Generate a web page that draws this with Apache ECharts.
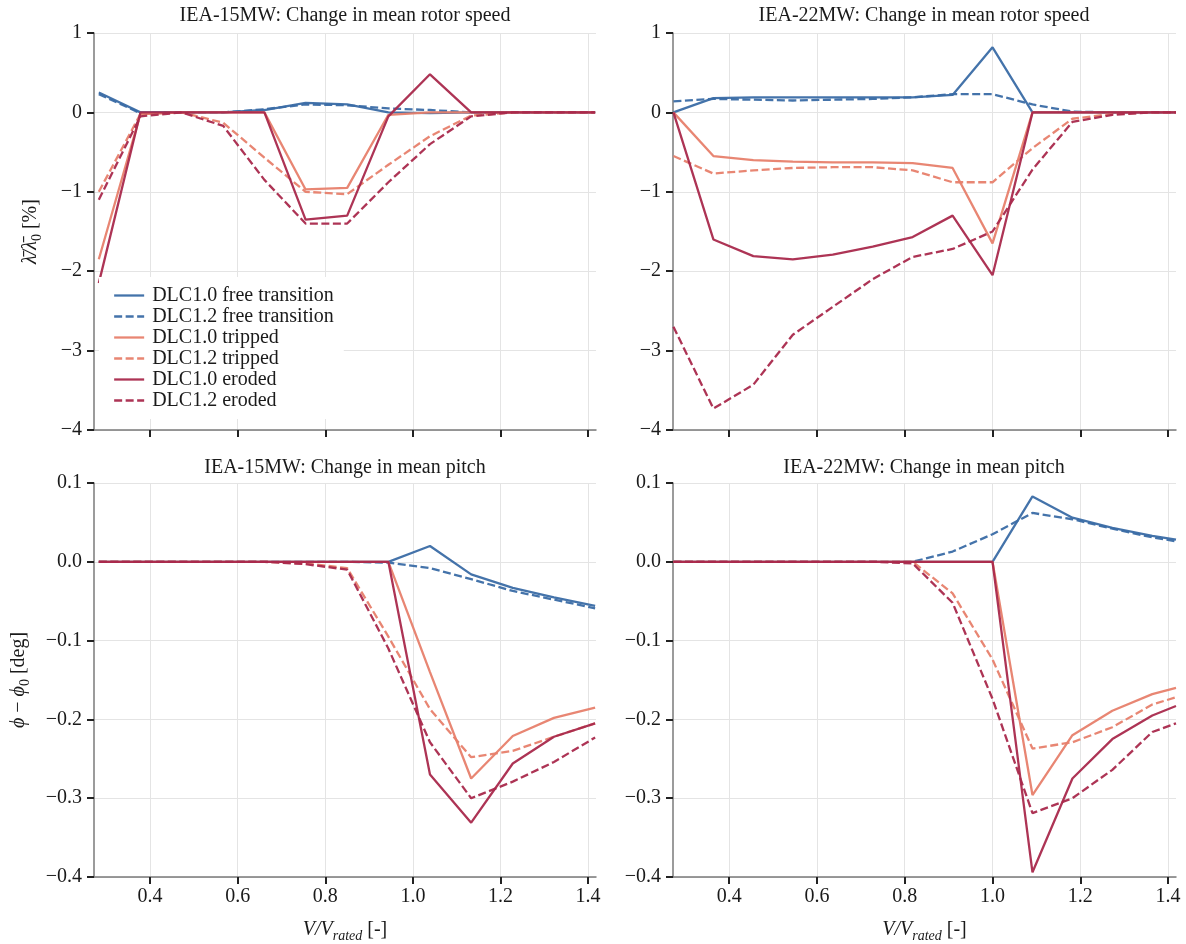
<!DOCTYPE html>
<html>
<head>
<meta charset="utf-8">
<script src="https://cdn.jsdelivr.net/npm/echarts@6/dist/echarts.min.js"></script>
<style>
  html, body { margin: 0; padding: 0; background: #fff; }
  #chart { width: 1186px; height: 944px; }
</style>
</head>
<body>
<div id="chart"></div>
<script>
// Normalised wind speed V/V_rated for each turbine
const x15 = [0.283, 0.378, 0.472, 0.567, 0.661, 0.755, 0.850, 0.944, 1.039, 1.133, 1.228, 1.322, 1.416];
const x22 = [0.273, 0.364, 0.455, 0.545, 0.636, 0.727, 0.818, 0.909, 1.000, 1.091, 1.182, 1.273, 1.364, 1.418];
const xTicks = [0.4, 0.6, 0.8, 1.0, 1.2, 1.4];

const seriesNames = [
  'DLC1.0 free transition', 'DLC1.2 free transition',
  'DLC1.0 tripped', 'DLC1.2 tripped',
  'DLC1.0 eroded', 'DLC1.2 eroded'
];
const panelTitles = [
  'IEA-15MW: Change in mean rotor speed', 'IEA-22MW: Change in mean rotor speed',
  'IEA-15MW: Change in mean pitch', 'IEA-22MW: Change in mean pitch'
];

// IEA-15MW, change in mean rotor speed [%]
const rot15Free10 = [0.25, 0.0, 0.0, 0.0, 0.03, 0.12, 0.10, 0.0, -0.01, 0.0, 0.0, 0.0, 0.0];
const rot15Free12 = [0.23, -0.01, 0.0, 0.0, 0.04, 0.10, 0.09, 0.05, 0.03, 0.0, 0.0, 0.0, 0.0];
const rot15Trip10 = [-1.85, -0.02, 0.0, 0.0, 0.0, -0.97, -0.95, -0.03, 0.0, 0.0, 0.0, 0.0, 0.0];
const rot15Trip12 = [-1.0, -0.02, 0.0, -0.13, -0.57, -1.0, -1.03, -0.66, -0.3, -0.04, 0.0, 0.0, 0.0];
const rot15Eros10 = [-2.15, 0.0, 0.0, 0.0, 0.0, -1.35, -1.3, -0.05, 0.48, 0.0, 0.0, 0.0, 0.0];
const rot15Eros12 = [-1.1, -0.05, 0.0, -0.17, -0.85, -1.4, -1.4, -0.88, -0.4, -0.05, 0.0, 0.0, 0.0];

// IEA-22MW, change in mean rotor speed [%]
const rot22Free10 = [0.0, 0.18, 0.19, 0.19, 0.19, 0.19, 0.19, 0.22, 0.82, 0.0, 0.0, 0.0, 0.0, 0.0];
const rot22Free12 = [0.14, 0.17, 0.16, 0.15, 0.16, 0.17, 0.19, 0.23, 0.23, 0.1, 0.01, 0.0, 0.0, 0.0];
const rot22Trip10 = [0.0, -0.55, -0.6, -0.62, -0.63, -0.63, -0.64, -0.7, -1.65, 0.0, 0.0, 0.0, 0.0, 0.0];
const rot22Trip12 = [-0.55, -0.77, -0.73, -0.7, -0.69, -0.69, -0.73, -0.88, -0.88, -0.45, -0.08, -0.02, 0.0, 0.0];
const rot22Eros10 = [0.0, -1.6, -1.81, -1.85, -1.79, -1.69, -1.57, -1.3, -2.05, 0.0, 0.0, 0.0, 0.0, 0.0];
const rot22Eros12 = [-2.7, -3.73, -3.43, -2.8, -2.45, -2.1, -1.82, -1.72, -1.5, -0.72, -0.12, -0.03, 0.0, 0.0];

// IEA-15MW, change in mean pitch [deg]
const pitch15Free10 = [0, 0, 0, 0, 0, 0, 0, 0, 0.02, -0.016, -0.033, -0.045, -0.056];
const pitch15Free12 = [0, 0, 0, 0, 0, 0, 0, -0.001, -0.008, -0.022, -0.037, -0.048, -0.059];
const pitch15Trip10 = [0, 0, 0, 0, 0, 0, 0, 0, -0.14, -0.275, -0.221, -0.198, -0.185];
const pitch15Trip12 = [0, 0, 0, 0, 0, -0.002, -0.008, -0.095, -0.187, -0.248, -0.24, -0.222, -0.205];
const pitch15Eros10 = [0, 0, 0, 0, 0, 0, 0, 0, -0.27, -0.331, -0.256, -0.222, -0.205];
const pitch15Eros12 = [0, 0, 0, 0, 0, -0.003, -0.01, -0.11, -0.229, -0.3, -0.279, -0.254, -0.223];

// IEA-22MW, change in mean pitch [deg]
const pitch22Free10 = [0, 0, 0, 0, 0, 0, 0, 0, 0, 0.083, 0.056, 0.043, 0.033, 0.028];
const pitch22Free12 = [0, 0, 0, 0, 0, 0, 0, 0.013, 0.035, 0.062, 0.054, 0.042, 0.031, 0.026];
const pitch22Trip10 = [0, 0, 0, 0, 0, 0, 0, 0, 0, -0.296, -0.22, -0.189, -0.168, -0.16];
const pitch22Trip12 = [0, 0, 0, 0, 0, 0, 0, -0.04, -0.124, -0.237, -0.229, -0.21, -0.181, -0.172];
const pitch22Eros10 = [0, 0, 0, 0, 0, 0, 0, 0, 0, -0.394, -0.275, -0.225, -0.195, -0.183];
const pitch22Eros12 = [0, 0, 0, 0, 0, 0, -0.002, -0.052, -0.174, -0.319, -0.3, -0.264, -0.216, -0.205];

// ---- styling ----
const FONT = '"Liberation Serif", "DejaVu Serif", serif';
const TEXT = '#1a1a1a';
const BLUE = '#3a6ba5', SALMON = '#e7806b', CRIMSON = '#a9294c';
const lineStyles = [
  { color: BLUE, dashed: false }, { color: BLUE, dashed: true },
  { color: SALMON, dashed: false }, { color: SALMON, dashed: true },
  { color: CRIMSON, dashed: false }, { color: CRIMSON, dashed: true }
];
const DASH = [8, 3.5];
const X_MIN = 0.272, X_MAX = 1.418;

const grids = [
  { left: 94, top: 33, width: 502, height: 397 },
  { left: 673, top: 33, width: 503, height: 397 },
  { left: 94, top: 483, width: 502, height: 400 },
  { left: 673, top: 483, width: 503, height: 400 }
];

function fmtTick(v, digits) {
  const r = Math.abs(v) < 1e-9 ? 0 : v;
  const s = Math.abs(r).toFixed(digits);
  return (r < 0 ? '\u2212' : '') + s;
}

const richBase = {
  i: { fontFamily: FONT, fontStyle: 'italic', fontSize: 20, color: TEXT, lineHeight: 26 },
  n: { fontFamily: FONT, fontSize: 20, color: TEXT, lineHeight: 26 },
  s: { fontFamily: FONT, fontSize: 14, color: TEXT, lineHeight: 14, verticalAlign: 'bottom' },
  si: { fontFamily: FONT, fontStyle: 'italic', fontSize: 14, color: TEXT, lineHeight: 14, verticalAlign: 'bottom' }
};

function xAxisCfg(gi, withLabels) {
  return {
    type: 'value', gridIndex: gi, min: X_MIN, max: X_MAX,
    axisLine: { onZero: false, lineStyle: { color: '#7a7a7a', width: 1.5 } },
    axisTick: { show: true, customValues: xTicks, length: 7, lineStyle: { color: '#222', width: 2 } },
    axisLabel: {
      show: withLabels, customValues: xTicks, margin: 10,
      fontFamily: FONT, fontSize: 20, color: TEXT,
      formatter: v => fmtTick(v, 1)
    },
    splitLine: { show: true, lineStyle: { color: '#e4e4e4', width: 1 } },
    name: withLabels ? '{i|V/V}{si|rated}{n| [-]}' : '',
    nameLocation: 'middle', nameGap: 40,
    nameTextStyle: { rich: richBase }
  };
}

function yAxisCfg(gi, min, max, step, digits, name, gap) {
  return {
    type: 'value', gridIndex: gi, min: min, max: max, interval: step,
    axisLine: { show: true, onZero: false, lineStyle: { color: '#7a7a7a', width: 1.5 } },
    axisTick: { show: true, length: 7, lineStyle: { color: '#222', width: 2 } },
    axisLabel: {
      margin: 12, fontFamily: FONT, fontSize: 20, color: TEXT,
      formatter: v => fmtTick(v, digits)
    },
    splitLine: { show: true, lineStyle: { color: '#e4e4e4', width: 1 } },
    name: name || '', nameLocation: 'middle', nameGap: gap || 40,
    nameTextStyle: { rich: richBase }
  };
}

const panels = [
  { xs: x15, ys: [rot15Free10, rot15Free12, rot15Trip10, rot15Trip12, rot15Eros10, rot15Eros12] },
  { xs: x22, ys: [rot22Free10, rot22Free12, rot22Trip10, rot22Trip12, rot22Eros10, rot22Eros12] },
  { xs: x15, ys: [pitch15Free10, pitch15Free12, pitch15Trip10, pitch15Trip12, pitch15Eros10, pitch15Eros12] },
  { xs: x22, ys: [pitch22Free10, pitch22Free12, pitch22Trip10, pitch22Trip12, pitch22Eros10, pitch22Eros12] }
];

const series = [];
panels.forEach((p, gi) => {
  p.ys.forEach((ys, k) => {
    const st = lineStyles[k];
    series.push({
      type: 'line', name: seriesNames[k],
      xAxisIndex: gi, yAxisIndex: gi,
      data: p.xs.map((x, i) => [x, ys[i]]),
      symbol: 'none', clip: true, silent: true,
      lineStyle: { color: st.color, width: 2.3, type: st.dashed ? DASH : 'solid', opacity: 0.95 },
      itemStyle: { color: st.color },
      emphasis: { disabled: true }
    });
  });
});

const titleCenters = [[345, 16], [924, 16], [345, 468], [924, 468]];

const option = {
  backgroundColor: '#fff',
  animation: false,
  grid: grids,
  xAxis: [xAxisCfg(0, false), xAxisCfg(1, false), xAxisCfg(2, true), xAxisCfg(3, true)],
  yAxis: [
    yAxisCfg(0, -4, 1, 1, 0, '{i|\u03BB\u0304/\u03BB\u0304}{s|0}{n| [%]}', 50),
    yAxisCfg(1, -4, 1, 1, 0),
    yAxisCfg(2, -0.4, 0.1, 0.1, 1, '{i|\u03D5}{n| \u2212 }{i|\u03D5}{s|0}{n| [deg]}', 62),
    yAxisCfg(3, -0.4, 0.1, 0.1, 1)
  ],
  legend: {
    data: seriesNames,
    orient: 'vertical',
    left: 99, top: 277,
    padding: [8, 10, 8, 14],
    itemGap: 0, itemWidth: 30, itemHeight: 14,
    backgroundColor: '#ffffff',
    selectedMode: false,
    // line-only keys: hide the marker that line series add to legend icons
    itemStyle: { opacity: 0, color: 'rgba(0,0,0,0)', borderWidth: 0 },
    lineStyle: { width: 2.3 },
    textStyle: { fontFamily: FONT, fontSize: 20, color: TEXT, lineHeight: 21, padding: [0, 0, 0, 3] }
  },
  graphic: panelTitles.map((t, i) => ({
    type: 'text', x: titleCenters[i][0], y: titleCenters[i][1], silent: true,
    style: { text: t, font: '20px ' + FONT, fill: TEXT, align: 'center', verticalAlign: 'middle' }
  })),
  series: series
};

const chart = echarts.init(document.getElementById('chart'), null, { renderer: 'canvas' });
chart.setOption(option);
</script>
</body>
</html>
